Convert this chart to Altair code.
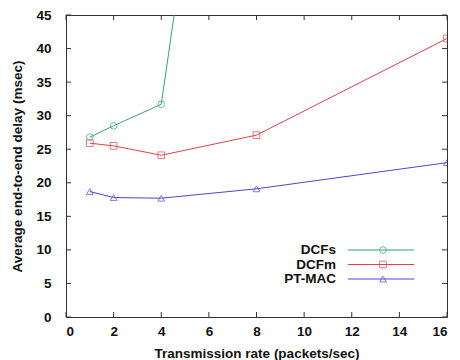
import altair as alt
import pandas as pd

rates = [1, 2, 4, 8, 16]
dcfs = [26.8, 28.5, 31.7, 130.0, None]
dcfm = [25.9, 25.5, 24.1, 27.1, 41.5]
ptmac = [18.7, 17.8, 17.7, 19.1, 23.0]
series_names = ["DCFs", "DCFm", "PT-MAC"]
colors = ["#3a9e80", "#e0404c", "#4848d0"]
shapes = ["circle", "square", "triangle-up"]
x_ticks = [0, 2, 4, 6, 8, 10, 12, 14, 16]
y_ticks = [0, 5, 10, 15, 20, 25, 30, 35, 40, 45]

W, H = 381, 302
FONT = "Liberation Sans"

rows = []
for name, vals in zip(series_names, [dcfs, dcfm, ptmac]):
    for r, v in zip(rates, vals):
        if v is not None:
            rows.append({"rate": r, "delay": v, "series": name})
df = pd.DataFrame(rows)

xs = alt.Scale(domain=[0, 16], nice=False)
ys = alt.Scale(domain=[0, 45], nice=False)
col = alt.Scale(domain=series_names, range=colors)
shp = alt.Scale(domain=series_names, range=shapes)

XT = "Transmission rate (packets/sec)"
YT = "Average end-to-end delay (msec)"
xa = alt.Axis(values=x_ticks, title=XT, ticks=False, grid=False, domain=False,
              labelPadding=7, titlePadding=9, labelOverlap=False)
ya = alt.Axis(values=y_ticks, title=YT, ticks=False, grid=False, domain=False,
              labelPadding=15, titlePadding=11, labelOverlap=False)

base = alt.Chart(df)
lines = base.mark_line(strokeWidth=1, clip=True).encode(
    x=alt.X("rate:Q", scale=xs, axis=xa, title=XT),
    y=alt.Y("delay:Q", scale=ys, axis=ya, title=YT),
    color=alt.Color("series:N", scale=col, legend=None),
    detail="series:N",
)
points = base.mark_point(filled=False, size=45, strokeWidth=1, clip=True).encode(
    x=alt.X("rate:Q", scale=xs, axis=xa, title=XT),
    y=alt.Y("delay:Q", scale=ys, axis=ya, title=YT),
    color=alt.Color("series:N", scale=col, legend=None),
    shape=alt.Shape("series:N", scale=shp, legend=None),
)

xt = pd.DataFrame({"t": x_ticks})
yt = pd.DataFrame({"t": y_ticks})
tick_col = "#333333"
xb = alt.Chart(xt).mark_rule(color=tick_col, strokeWidth=1).encode(
    x=alt.X("t:Q", scale=xs, axis=xa, title=XT), y=alt.value(H), y2=alt.value(H - 5))
xtop = alt.Chart(xt).mark_rule(color=tick_col, strokeWidth=1).encode(
    x=alt.X("t:Q", scale=xs, axis=xa, title=XT), y=alt.value(0), y2=alt.value(5))
yl = alt.Chart(yt).mark_rule(color=tick_col, strokeWidth=1).encode(
    y=alt.Y("t:Q", scale=ys, axis=ya, title=YT), x=alt.value(0), x2=alt.value(5))
yr = alt.Chart(yt).mark_rule(color=tick_col, strokeWidth=1).encode(
    y=alt.Y("t:Q", scale=ys, axis=ya, title=YT), x=alt.value(W), x2=alt.value(W - 5))

legend_layers = []
for i, (name, c, s) in enumerate(zip(series_names, colors, shapes)):
    ly = 235 + i * 14.5
    ld = pd.DataFrame({"series": [name]})
    lc = alt.Chart(ld)
    legend_layers.append(lc.mark_text(align="right", baseline="middle", font=FONT,
                                      fontWeight="bold", fontSize=13.5, color="#111").encode(
        text="series:N", x=alt.value(270), y=alt.value(ly)))
    legend_layers.append(lc.mark_rule(color=c, strokeWidth=1).encode(
        x=alt.value(282), x2=alt.value(348), y=alt.value(ly)))
    legend_layers.append(lc.mark_point(filled=False, size=45, strokeWidth=1, color=c, shape=s).encode(
        x=alt.value(317), y=alt.value(ly)))

chart = alt.layer(lines, points, xb, xtop, yl, yr, *legend_layers).properties(
    width=W, height=H,
    background="white",
    autosize=alt.AutoSizeParams(type="none"),
    padding={"left": 58, "top": 7, "right": 5, "bottom": 45},
).configure_view(stroke="#333333", strokeWidth=1).configure_axis(
    labelFont=FONT, titleFont=FONT, labelFontWeight="bold", titleFontWeight="bold",
    labelFontSize=13.5, titleFontSize=13.5, labelColor="#111", titleColor="#111",
)

chart.save("out.html", embed_options={"renderer": "svg", "actions": False})
